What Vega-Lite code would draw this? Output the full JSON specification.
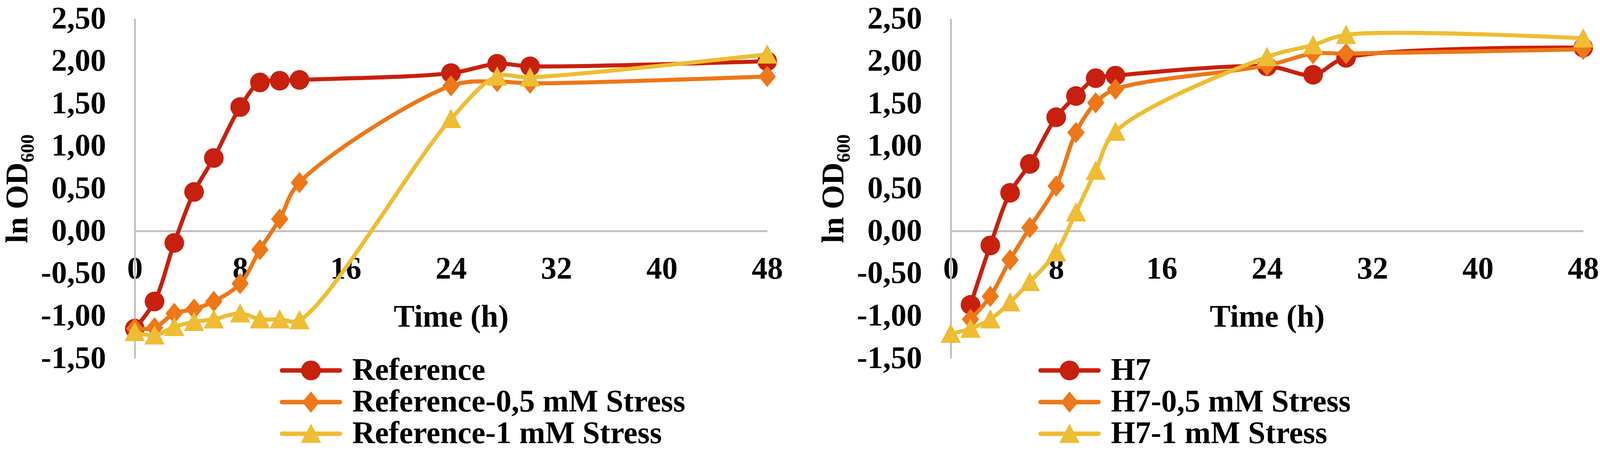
{
  "$schema": "https://vega.github.io/schema/vega-lite/v6.json",
  "background": "white",
  "padding": {"left": 5, "top": 8, "right": 0, "bottom": 0},
  "bounds": "flush",
  "spacing": 470,
  "data": {"values": [
    {"panel": "L", "series": "Reference", "t": 0, "v": -1.15},
    {"panel": "L", "series": "Reference", "t": 1.5, "v": -0.83},
    {"panel": "L", "series": "Reference", "t": 3, "v": -0.14},
    {"panel": "L", "series": "Reference", "t": 4.5, "v": 0.46},
    {"panel": "L", "series": "Reference", "t": 6, "v": 0.86},
    {"panel": "L", "series": "Reference", "t": 8, "v": 1.46},
    {"panel": "L", "series": "Reference", "t": 9.5, "v": 1.75},
    {"panel": "L", "series": "Reference", "t": 11, "v": 1.77},
    {"panel": "L", "series": "Reference", "t": 12.5, "v": 1.78},
    {"panel": "L", "series": "Reference", "t": 24, "v": 1.86},
    {"panel": "L", "series": "Reference", "t": 27.5, "v": 1.97},
    {"panel": "L", "series": "Reference", "t": 30, "v": 1.94},
    {"panel": "L", "series": "Reference", "t": 48, "v": 2.0},
    {"panel": "L", "series": "Reference-0,5 mM Stress", "t": 0, "v": -1.15},
    {"panel": "L", "series": "Reference-0,5 mM Stress", "t": 1.5, "v": -1.14},
    {"panel": "L", "series": "Reference-0,5 mM Stress", "t": 3, "v": -0.97},
    {"panel": "L", "series": "Reference-0,5 mM Stress", "t": 4.5, "v": -0.92},
    {"panel": "L", "series": "Reference-0,5 mM Stress", "t": 6, "v": -0.83},
    {"panel": "L", "series": "Reference-0,5 mM Stress", "t": 8, "v": -0.62},
    {"panel": "L", "series": "Reference-0,5 mM Stress", "t": 9.5, "v": -0.22},
    {"panel": "L", "series": "Reference-0,5 mM Stress", "t": 11, "v": 0.14},
    {"panel": "L", "series": "Reference-0,5 mM Stress", "t": 12.5, "v": 0.57},
    {"panel": "L", "series": "Reference-0,5 mM Stress", "t": 24, "v": 1.71},
    {"panel": "L", "series": "Reference-0,5 mM Stress", "t": 27.5, "v": 1.76},
    {"panel": "L", "series": "Reference-0,5 mM Stress", "t": 30, "v": 1.74},
    {"panel": "L", "series": "Reference-0,5 mM Stress", "t": 48, "v": 1.82},
    {"panel": "L", "series": "Reference-1 mM Stress", "t": 0, "v": -1.19},
    {"panel": "L", "series": "Reference-1 mM Stress", "t": 1.5, "v": -1.23},
    {"panel": "L", "series": "Reference-1 mM Stress", "t": 3, "v": -1.13},
    {"panel": "L", "series": "Reference-1 mM Stress", "t": 4.5, "v": -1.07},
    {"panel": "L", "series": "Reference-1 mM Stress", "t": 6, "v": -1.04},
    {"panel": "L", "series": "Reference-1 mM Stress", "t": 8, "v": -0.97},
    {"panel": "L", "series": "Reference-1 mM Stress", "t": 9.5, "v": -1.04},
    {"panel": "L", "series": "Reference-1 mM Stress", "t": 11, "v": -1.04},
    {"panel": "L", "series": "Reference-1 mM Stress", "t": 12.5, "v": -1.05},
    {"panel": "L", "series": "Reference-1 mM Stress", "t": 24, "v": 1.32},
    {"panel": "L", "series": "Reference-1 mM Stress", "t": 27.5, "v": 1.82},
    {"panel": "L", "series": "Reference-1 mM Stress", "t": 30, "v": 1.81},
    {"panel": "L", "series": "Reference-1 mM Stress", "t": 48, "v": 2.08},
    {"panel": "R", "series": "H7", "t": 1.5, "v": -0.87},
    {"panel": "R", "series": "H7", "t": 3, "v": -0.17},
    {"panel": "R", "series": "H7", "t": 4.5, "v": 0.45},
    {"panel": "R", "series": "H7", "t": 6, "v": 0.79},
    {"panel": "R", "series": "H7", "t": 8, "v": 1.34},
    {"panel": "R", "series": "H7", "t": 9.5, "v": 1.59},
    {"panel": "R", "series": "H7", "t": 11, "v": 1.8},
    {"panel": "R", "series": "H7", "t": 12.5, "v": 1.83},
    {"panel": "R", "series": "H7", "t": 24, "v": 1.94},
    {"panel": "R", "series": "H7", "t": 27.5, "v": 1.84},
    {"panel": "R", "series": "H7", "t": 30, "v": 2.04},
    {"panel": "R", "series": "H7", "t": 48, "v": 2.16},
    {"panel": "R", "series": "H7-0,5 mM Stress", "t": 1.5, "v": -1.04},
    {"panel": "R", "series": "H7-0,5 mM Stress", "t": 3, "v": -0.77},
    {"panel": "R", "series": "H7-0,5 mM Stress", "t": 4.5, "v": -0.34},
    {"panel": "R", "series": "H7-0,5 mM Stress", "t": 6, "v": 0.04},
    {"panel": "R", "series": "H7-0,5 mM Stress", "t": 8, "v": 0.53},
    {"panel": "R", "series": "H7-0,5 mM Stress", "t": 9.5, "v": 1.16},
    {"panel": "R", "series": "H7-0,5 mM Stress", "t": 11, "v": 1.51},
    {"panel": "R", "series": "H7-0,5 mM Stress", "t": 12.5, "v": 1.67},
    {"panel": "R", "series": "H7-0,5 mM Stress", "t": 24, "v": 1.95},
    {"panel": "R", "series": "H7-0,5 mM Stress", "t": 27.5, "v": 2.09},
    {"panel": "R", "series": "H7-0,5 mM Stress", "t": 30, "v": 2.09},
    {"panel": "R", "series": "H7-0,5 mM Stress", "t": 48, "v": 2.14},
    {"panel": "R", "series": "H7-1 mM Stress", "t": 0, "v": -1.21},
    {"panel": "R", "series": "H7-1 mM Stress", "t": 1.5, "v": -1.15},
    {"panel": "R", "series": "H7-1 mM Stress", "t": 3, "v": -1.04},
    {"panel": "R", "series": "H7-1 mM Stress", "t": 4.5, "v": -0.84},
    {"panel": "R", "series": "H7-1 mM Stress", "t": 6, "v": -0.6},
    {"panel": "R", "series": "H7-1 mM Stress", "t": 8, "v": -0.25},
    {"panel": "R", "series": "H7-1 mM Stress", "t": 9.5, "v": 0.22},
    {"panel": "R", "series": "H7-1 mM Stress", "t": 11, "v": 0.71},
    {"panel": "R", "series": "H7-1 mM Stress", "t": 12.5, "v": 1.17},
    {"panel": "R", "series": "H7-1 mM Stress", "t": 24, "v": 2.05},
    {"panel": "R", "series": "H7-1 mM Stress", "t": 27.5, "v": 2.19},
    {"panel": "R", "series": "H7-1 mM Stress", "t": 30, "v": 2.31},
    {"panel": "R", "series": "H7-1 mM Stress", "t": 48, "v": 2.27}
  ]},
  "hconcat": [
    {
      "width": 1619,
      "height": 869,
      "transform": [{"filter": "datum.panel == 'L'"}],
      "encoding": {
        "x": {"field": "t", "type": "quantitative", "scale": {"domain": [0, 48], "nice": false},
          "axis": {"title": "Time (h)", "values": [0, 8, 16, 24, 32, 40, 48], "offset": -325.9, "labelPadding": 58, "titleY": 244, "titleBaseline": "alphabetic"}},
        "y": {"field": "v", "type": "quantitative", "scale": {"domain": [-1.5, 2.5], "nice": false, "zero": false},
          "axis": {"title": "ln OD₆₀₀", "values": [-1.5, -1, -0.5, 0, 0.5, 1, 1.5, 2, 2.5], "labelExpr": "(datum.value < 0 ? '-' : '') + replace(format(abs(datum.value), '.2f'), '.', ',')", "labelPadding": 74, "titleX": -276, "titleBaseline": "alphabetic", "titleAngle": -90}}
      },
      "layer": [
        {"transform": [{"filter": "indexof(datum.series, 'mM') < 0"}],
         "mark": {"type": "line", "color": "#C8200E", "strokeWidth": 10.4, "interpolate": "catmull-rom", "strokeJoin": "round", "strokeCap": "round"}},
        {"transform": [{"filter": "indexof(datum.series, 'mM') < 0"}],
         "mark": {"type": "point", "shape": "circle", "filled": true, "opacity": 1, "size": 2530, "color": "#C8200E"}},
        {"transform": [{"filter": "indexof(datum.series, '0,5') >= 0"}],
         "mark": {"type": "line", "color": "#EE7718", "strokeWidth": 10.4, "interpolate": "catmull-rom", "strokeJoin": "round", "strokeCap": "round"}},
        {"transform": [{"filter": "indexof(datum.series, '0,5') >= 0"}],
         "mark": {"type": "point", "shape": "M0,-1.1L0.9,0L0,1.1L-0.9,0Z", "filled": true, "opacity": 1, "size": 2440, "color": "#EE7718"}},
        {"transform": [{"filter": "indexof(datum.series, '-1 mM') >= 0"}],
         "mark": {"type": "line", "color": "#EEBD34", "strokeWidth": 10.4, "interpolate": "catmull-rom", "strokeJoin": "round", "strokeCap": "round"}},
        {"transform": [{"filter": "indexof(datum.series, '-1 mM') >= 0"}],
         "mark": {"type": "point", "shape": "M0,-1.05L1.05,0.95L-1.05,0.95Z", "filled": true, "opacity": 1, "size": 2440, "color": "#EEBD34"}},
        {"transform": [{"filter": "datum.t < 0"}],
         "mark": {"type": "point", "filled": true, "opacity": 1, "size": 2440},
         "encoding": {
           "color": {"field": "series", "type": "nominal",
             "scale": {"domain": ["Reference", "Reference-0,5 mM Stress", "Reference-1 mM Stress"], "range": ["#C8200E", "#EE7718", "#EEBD34"]},
             "legend": {"title": null, "legendX": 411, "legendY": 860}},
           "shape": {"field": "series", "type": "nominal",
             "scale": {"domain": ["Reference", "Reference-0,5 mM Stress", "Reference-1 mM Stress"],
               "range": [
                 "M-3,-0.23H3A0.23,0.23 0 0,1 3,0.23H-3A0.23,0.23 0 0,1 -3,-0.23Z M1.02,0A1.02,1.02 0 1,1 -1.02,0A1.02,1.02 0 1,1 1.02,0Z",
                 "M-3,-0.23H3A0.23,0.23 0 0,1 3,0.23H-3A0.23,0.23 0 0,1 -3,-0.23Z M0,-1.1L0.9,0L0,1.1L-0.9,0Z",
                 "M-3,-0.23H3A0.23,0.23 0 0,1 3,0.23H-3A0.23,0.23 0 0,1 -3,-0.23Z M0,-1.05L1.05,0.95L-1.05,0.95Z"]},
             "legend": {"title": null, "legendX": 411, "legendY": 860}}
         }}
      ]
    },
    {
      "width": 1619,
      "height": 869,
      "transform": [{"filter": "datum.panel == 'R'"}],
      "encoding": {
        "x": {"field": "t", "type": "quantitative", "scale": {"domain": [0, 48], "nice": false},
          "axis": {"title": "Time (h)", "values": [0, 8, 16, 24, 32, 40, 48], "offset": -325.9, "labelPadding": 58, "titleY": 244, "titleBaseline": "alphabetic"}},
        "y": {"field": "v", "type": "quantitative", "scale": {"domain": [-1.5, 2.5], "nice": false, "zero": false},
          "axis": {"title": "ln OD₆₀₀", "values": [-1.5, -1, -0.5, 0, 0.5, 1, 1.5, 2, 2.5], "labelExpr": "(datum.value < 0 ? '-' : '') + replace(format(abs(datum.value), '.2f'), '.', ',')", "labelPadding": 74, "titleX": -276, "titleBaseline": "alphabetic", "titleAngle": -90}}
      },
      "layer": [
        {"transform": [{"filter": "indexof(datum.series, 'mM') < 0"}],
         "mark": {"type": "line", "color": "#C8200E", "strokeWidth": 10.4, "interpolate": "catmull-rom", "strokeJoin": "round", "strokeCap": "round"}},
        {"transform": [{"filter": "indexof(datum.series, 'mM') < 0"}],
         "mark": {"type": "point", "shape": "circle", "filled": true, "opacity": 1, "size": 2530, "color": "#C8200E"}},
        {"transform": [{"filter": "indexof(datum.series, '0,5') >= 0"}],
         "mark": {"type": "line", "color": "#EE7718", "strokeWidth": 10.4, "interpolate": "catmull-rom", "strokeJoin": "round", "strokeCap": "round"}},
        {"transform": [{"filter": "indexof(datum.series, '0,5') >= 0"}],
         "mark": {"type": "point", "shape": "M0,-1.1L0.9,0L0,1.1L-0.9,0Z", "filled": true, "opacity": 1, "size": 2440, "color": "#EE7718"}},
        {"transform": [{"filter": "indexof(datum.series, '-1 mM') >= 0"}],
         "mark": {"type": "line", "color": "#EEBD34", "strokeWidth": 10.4, "interpolate": "catmull-rom", "strokeJoin": "round", "strokeCap": "round"}},
        {"transform": [{"filter": "indexof(datum.series, '-1 mM') >= 0"}],
         "mark": {"type": "point", "shape": "M0,-1.05L1.05,0.95L-1.05,0.95Z", "filled": true, "opacity": 1, "size": 2440, "color": "#EEBD34"}},
        {"transform": [{"filter": "datum.t < 0"}],
         "mark": {"type": "point", "filled": true, "opacity": 1, "size": 2440},
         "encoding": {
           "color": {"field": "series", "type": "nominal",
             "scale": {"domain": ["H7", "H7-0,5 mM Stress", "H7-1 mM Stress"], "range": ["#C8200E", "#EE7718", "#EEBD34"]},
             "legend": {"title": null, "legendX": 264, "legendY": 860}},
           "shape": {"field": "series", "type": "nominal",
             "scale": {"domain": ["H7", "H7-0,5 mM Stress", "H7-1 mM Stress"],
               "range": [
                 "M-3,-0.23H3A0.23,0.23 0 0,1 3,0.23H-3A0.23,0.23 0 0,1 -3,-0.23Z M1.02,0A1.02,1.02 0 1,1 -1.02,0A1.02,1.02 0 1,1 1.02,0Z",
                 "M-3,-0.23H3A0.23,0.23 0 0,1 3,0.23H-3A0.23,0.23 0 0,1 -3,-0.23Z M0,-1.1L0.9,0L0,1.1L-0.9,0Z",
                 "M-3,-0.23H3A0.23,0.23 0 0,1 3,0.23H-3A0.23,0.23 0 0,1 -3,-0.23Z M0,-1.05L1.05,0.95L-1.05,0.95Z"]},
             "legend": {"title": null, "legendX": 264, "legendY": 860}}
         }}
      ]
    }
  ],
  "resolve": {
    "scale": {"color": "independent", "shape": "independent"},
    "legend": {"color": "independent", "shape": "independent"}
  },
  "config": {
    "view": {"stroke": null},
    "axis": {
      "grid": false, "ticks": false, "domainColor": "#BFBFBF", "domainWidth": 4.7,
      "labelFont": "Liberation Serif", "labelFontSize": 80, "labelFontWeight": "bold", "labelColor": "#000000",
      "labelFlush": false, "labelOverlap": false,
      "titleFont": "Liberation Serif", "titleFontSize": 80, "titleFontWeight": "bold", "titleColor": "#000000"
    },
    "legend": {
      "orient": "none", "direction": "vertical", "padding": 0,
      "labelFont": "Liberation Serif", "labelFontSize": 80, "labelFontWeight": "bold", "labelColor": "#000000",
      "labelOffset": 66, "labelLimit": 3000, "symbolSize": 2440, "symbolStrokeWidth": 0, "symbolOpacity": 1, "rowPadding": 1
    }
  }
}
